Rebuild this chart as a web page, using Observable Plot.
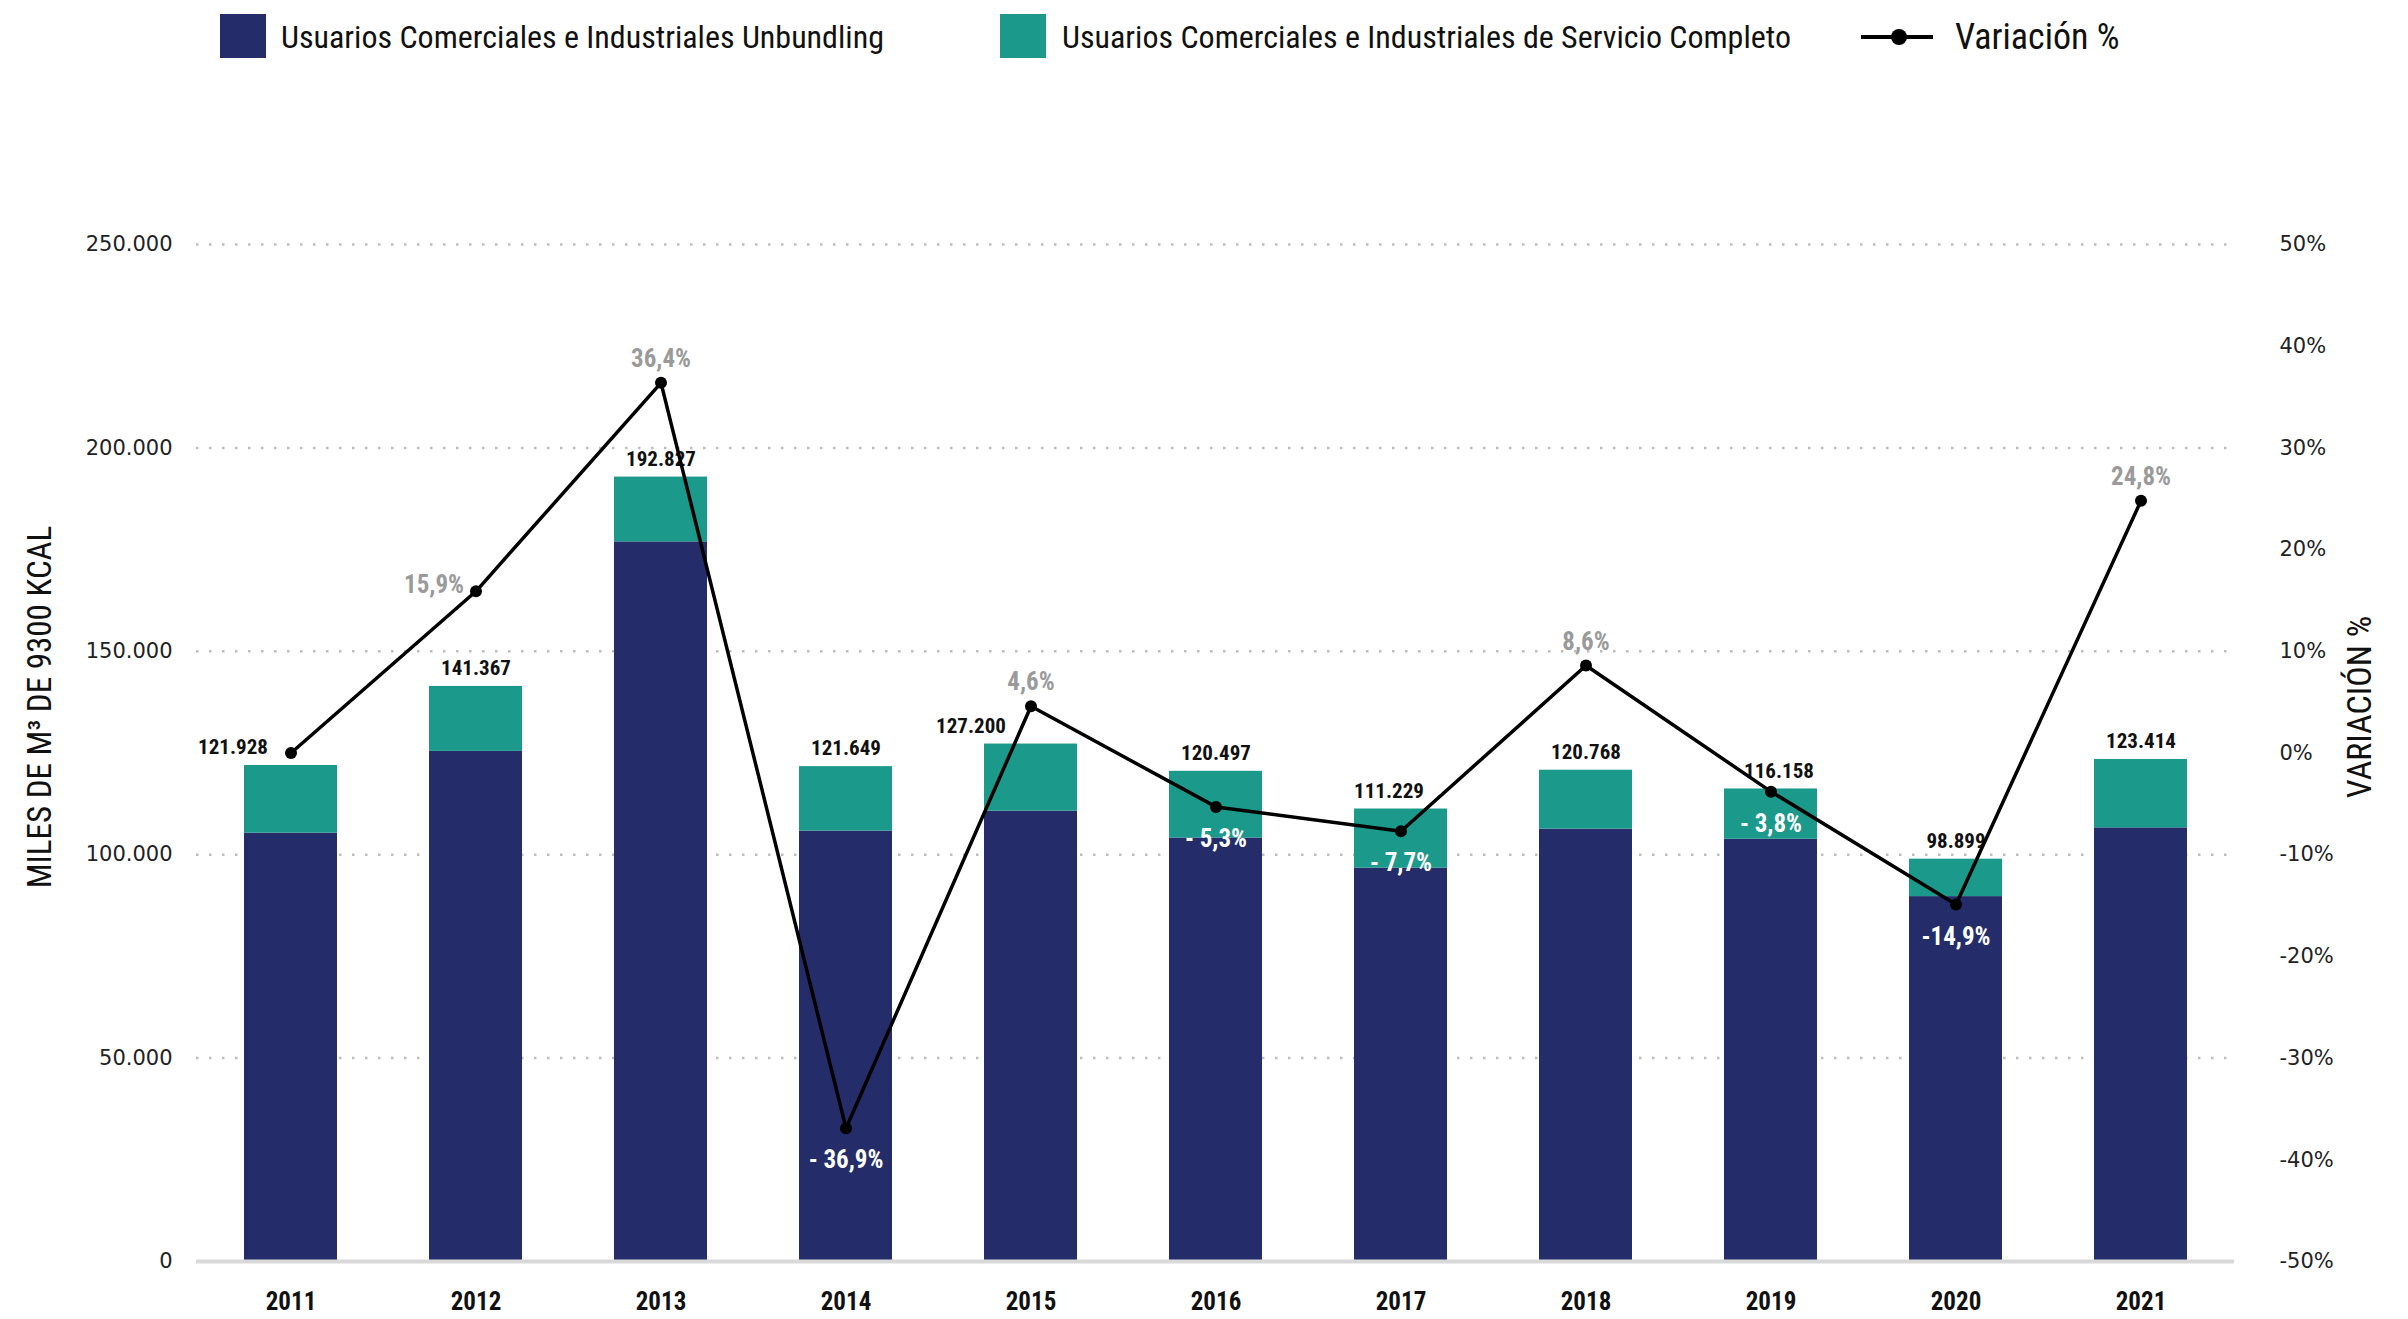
<!DOCTYPE html>
<html>
<head>
<meta charset="utf-8">
<script src="https://cdn.jsdelivr.net/npm/d3@7"></script>
<script src="https://cdn.jsdelivr.net/npm/@observablehq/plot@0.6"></script>
<style>
  html, body { margin: 0; padding: 0; background: #fff; }
  body { width: 2408px; height: 1319px; overflow: hidden; position: relative; }
  #legend { position: relative; width: 2408px; height: 80px; font-family: 'Liberation Sans Narrow', 'Roboto Condensed', 'DejaVu Sans Condensed', sans-serif; font-size: 32px; color: #111; }
  .sw { position: absolute; top: 14px; width: 46px; height: 44px; }
  .lt { position: absolute; top: 37px; transform: translateY(-50%); white-space: nowrap; }
  #chart svg { display: block; }
</style>
</head>
<body>
<div id="legend">
  <div class="sw" style="left:220px;background:#242D69"></div>
  <div class="lt" style="left:281px">Usuarios Comerciales e Industriales Unbundling</div>
  <div class="sw" style="left:1000px;background:#1B998B"></div>
  <div class="lt" style="left:1062px">Usuarios Comerciales e Industriales de Servicio Completo</div>
  <svg style="position:absolute;left:1861px;top:25px" width="72" height="24"><line x1="0" y1="12" x2="72" y2="12" stroke="#000" stroke-width="4"/><circle cx="38" cy="12" r="8" fill="#000"/></svg>
  <div class="lt" style="left:1955px;font-size:36px">Variación %</div>
</div>
<div id="chart"></div>
<script>
// ---- data ----
const years = ["2011","2012","2013","2014","2015","2016","2017","2018","2019","2020","2021"];
const totals = [121928, 141367, 192827, 121649, 127200, 120497, 111229, 120768, 116158, 98899, 123414];
const unbundling = [105300, 125400, 176900, 105800, 110700, 104100, 96700, 106300, 103800, 89700, 106600];
const variation = [0, 15.9, 36.4, -36.9, 4.6, -5.3, -7.7, 8.6, -3.8, -14.9, 24.8];
const variationLabels = ["", "15,9%", "36,4%", "- 36,9%", "4,6%", "- 5,3%", "- 7,7%", "8,6%", "- 3,8%", "-14,9%", "24,8%"];
const seriesNames = ["Usuarios Comerciales e Industriales Unbundling", "Usuarios Comerciales e Industriales de Servicio Completo"];
const leftTicks = [0, 50000, 100000, 150000, 200000, 250000];
const rightTicks = [-50, -40, -30, -20, -10, 0, 10, 20, 30, 40, 50];

// ---- derived tables ----
const locale = d3.formatLocale({decimal: ",", thousands: ".", grouping: [3], currency: ["", ""]});
const fmt = locale.format(",");
const stacked = [];
years.forEach((y, i) => {
  stacked.push({year: y, series: seriesNames[0], value: unbundling[i]});
  stacked.push({year: y, series: seriesNames[1], value: totals[i] - unbundling[i]});
});
const totalRows = years.map((y, i) => ({year: y, total: totals[i], label: fmt(totals[i])}));
const yMax = 250000;
const pctToY = p => (p + 50) / 100 * yMax;
const yToPct = v => Math.round(v / yMax * 100 - 50);
const varRows = years.map((y, i) => ({year: y, pct: variation[i], yv: pctToY(variation[i]), label: variationLabels[i]}));

const narrow = "'Liberation Sans Narrow', 'Roboto Condensed', 'DejaVu Sans Condensed', sans-serif";
const wide = "'DejaVu Sans', Verdana, sans-serif";

// value label horizontal nudges (to avoid the line)
const labelShift = {"2011": -58, "2015": -60, "2017": -12, "2019": 8};
const shiftGroups = [...new Set(years.map(y => labelShift[y] || 0))];
const totalLabelMarks = shiftGroups.map(dx => Plot.text(totalRows.filter(d => (labelShift[d.year] || 0) === dx), {
  x: "year", y: "total", text: "label", dy: -18, dx,
  fontSize: 21, fontWeight: "bold", fontFamily: narrow, fill: "#111"
}));

const plot = Plot.plot({
  width: 2408,
  height: 1239,
  marginTop: 164,
  marginBottom: 58,
  marginLeft: 196,
  marginRight: 174,
  style: {background: "#fff", fontFamily: narrow},
  x: {type: "band", domain: years, paddingInner: 0.5, paddingOuter: 0.25, axis: null},
  y: {domain: [0, yMax], axis: null},
  color: {domain: seriesNames, range: ["#242D69", "#1B998B"]},
  marks: [
    Plot.gridY(leftTicks.filter(d => d > 0), {stroke: "#bdbdbd", strokeOpacity: 1, strokeWidth: 2.5, strokeDasharray: "2.5,10.5"}),
    Plot.axisY(leftTicks, {anchor: "left", tickSize: 0, tickPadding: 24, tickFormat: fmt, fontSize: 21, fontFamily: wide, fill: "#222", label: null}),
    Plot.axisY(rightTicks.map(pctToY), {anchor: "right", tickSize: 0, tickPadding: 45, tickFormat: v => yToPct(v) + "%", fontSize: 21, fontFamily: wide, fill: "#222", label: null, textAnchor: "start"}),
    Plot.axisX({tickSize: 0, tickPadding: 31, fontSize: 25, fontWeight: "bold", fontFamily: narrow, fill: "#111", label: null}),
    Plot.barY(stacked, {x: "year", y: "value", fill: "series"}),
    Plot.ruleY([0], {stroke: "#d9d9d9", strokeWidth: 4}),
    ...totalLabelMarks,
    Plot.line(varRows, {x: "year", y: "yv", stroke: "#000", strokeWidth: 3.5}),
    Plot.dot(varRows, {x: "year", y: "yv", r: 6, fill: "#000"}),
    Plot.text(varRows.filter(d => d.pct > 0 && d.year !== "2012"), {x: "year", y: "yv", text: "label", dy: -24, fontSize: 25, fontWeight: "bold", fontFamily: narrow, fill: "#9a9a9a"}),
    Plot.text(varRows.filter(d => d.year === "2012"), {x: "year", y: "yv", text: "label", dx: -42, dy: -6, fontSize: 25, fontWeight: "bold", fontFamily: narrow, fill: "#9a9a9a"}),
    Plot.text(varRows.filter(d => d.pct < 0), {x: "year", y: "yv", text: "label", dy: 32, fontSize: 25, fontWeight: "bold", fontFamily: narrow, fill: "#fff"}),
    Plot.text(["MILES DE M³ DE 9300 KCAL"], {frameAnchor: "left", textAnchor: "middle", dx: -156, dy: -46, rotate: -90, fontSize: 33, fontFamily: narrow, fill: "#111"}),
    Plot.text(["VARIACIÓN %"], {frameAnchor: "right", textAnchor: "middle", dx: 126, dy: -46, rotate: -90, fontSize: 34, fontFamily: narrow, fill: "#111"})
  ]
});
document.getElementById("chart").appendChild(plot);
</script>
</body>
</html>
